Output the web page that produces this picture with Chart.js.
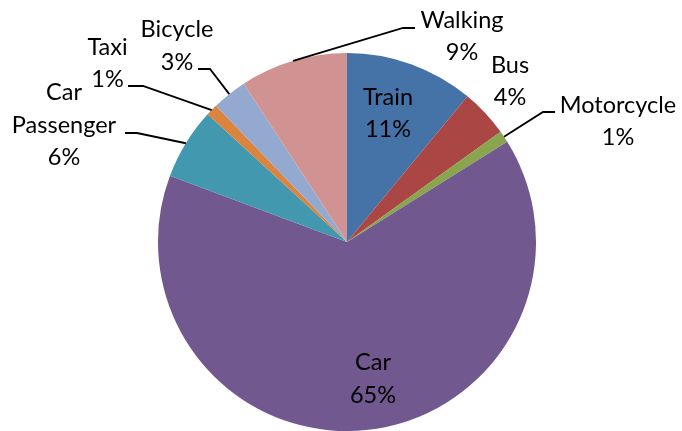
<!DOCTYPE html>
<html>
<head>
<meta charset="utf-8">
<script src="https://cdn.jsdelivr.net/npm/chart.js@4.4.0/dist/chart.umd.min.js"></script>
<style>
	html, body { margin: 0; padding: 0; background: #fff; }
	#wrap { width: 682px; height: 431px; }
</style>
</head>
<body>
<div id="wrap"><canvas id="chart" width="682" height="431"></canvas></div>
<script>
// mode share values (percent)
var categories = [ 'Train', 'Bus', 'Motorcycle', 'Car', 'Car Passenger', 'Taxi',
		'Bicycle', 'Walking' ];
var shares = [ 11.0, 4.1, 1.0, 64.6, 6.1, 1.0, 3.0, 9.2 ];
var sliceColors = [ '#4572A7', '#AA4643', '#89A54E', '#71588F', '#4198AF',
		'#DB843D', '#93A9CF', '#D19392' ];
// how each label is written (lines of text)
var labelLines = [ [ 'Train' ], [ 'Bus' ], [ 'Motorcycle' ], [ 'Car' ],
		[ 'Car', 'Passenger' ], [ 'Taxi' ], [ 'Bicycle' ], [ 'Walking' ] ];

(function() {
	'use strict';
	var fontSize = 23.5;
	var lineHeight = 32.5;

	// label placement, offsets from the pie centre; elbow = where the leader bends
	var labelLayout = [
		{ tx : 41, ty : -128.5 },
		{ tx : 163, ty : -160.5 },
		{ tx : 271, ty : -120.5, elbow : [ 196, -130 ], end : 208 },
		{ tx : 26, ty : 137 },
		{ tx : -283, ty : -117, elbow : [ -210, -109 ], end : -222 },
		{ tx : -239.5, ty : -178.5, elbow : [ -204, -156 ], end : -219 },
		{ tx : -170, ty : -196, elbow : [ -137, -173 ], end : -149 },
		{ tx : 115, ty : -205.5, elbow : [ 56, -214 ], end : 68 }
	];

	var total = shares.reduce(function(a, b) { return a + b; }, 0);

	var pieLabels = {
		id : 'pieLabels',
		afterDatasetsDraw : function(chart) {
			var ctx = chart.ctx;
			var meta = chart.getDatasetMeta(0);
			ctx.save();
			ctx.font = fontSize + 'px Lato';
			ctx.fillStyle = '#000';
			ctx.textAlign = 'center';
			ctx.textBaseline = 'middle';
			meta.data.forEach(function(arc, i) {
				var p = arc.getProps([ 'x', 'y', 'startAngle', 'endAngle', 'outerRadius' ], true);
				var lay = labelLayout[i];
				var cx = p.x, cy = p.y;
				if (lay.elbow) {
					var mid = (p.startAngle + p.endAngle) / 2;
					ctx.beginPath();
					ctx.strokeStyle = '#000';
					ctx.lineWidth = 1.8;
					ctx.moveTo(cx + Math.cos(mid) * p.outerRadius, cy + Math.sin(mid) * p.outerRadius);
					ctx.lineTo(cx + lay.elbow[0], cy + lay.elbow[1]);
					ctx.lineTo(cx + lay.end, cy + lay.elbow[1]);
					ctx.stroke();
				}
				var lines = labelLines[i].concat([ Math.round(shares[i] / total * 100) + '%' ]);
				var top = cy + lay.ty - (lines.length - 1) * lineHeight / 2;
				lines.forEach(function(txt, k) {
					ctx.fillText(txt, cx + lay.tx, top + k * lineHeight);
				});
			});
			ctx.restore();
		}
	};

	var ctx = document.getElementById('chart');
	new Chart(ctx, {
		type : 'pie',
		data : {
			labels : categories,
			datasets : [ {
				data : shares,
				backgroundColor : sliceColors,
				borderWidth : 0
			} ]
		},
		options : {
			responsive : false,
			animation : false,
			layout : {
				padding : { left : 158, right : 146, top : 53, bottom : 0 }
			},
			plugins : {
				legend : { display : false },
				tooltip : { enabled : false }
			}
		},
		plugins : [ pieLabels ]
	});
})();
</script>
</body>
</html>
